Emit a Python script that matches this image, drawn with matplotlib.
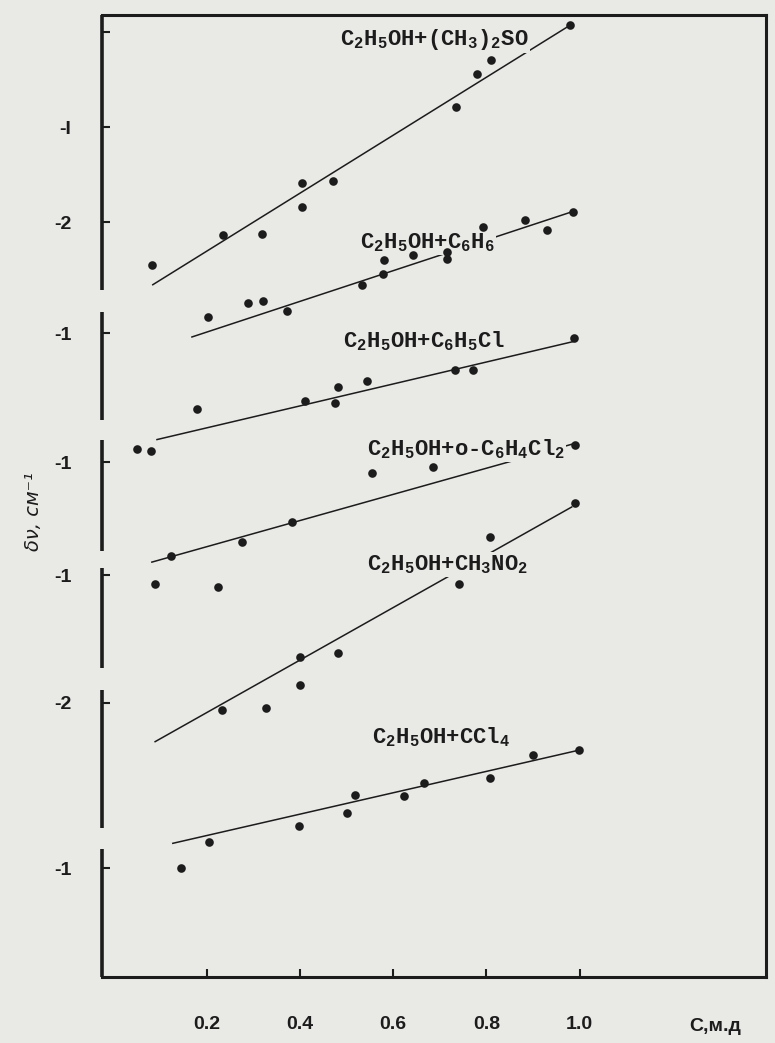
import matplotlib
matplotlib.use('Agg')
import matplotlib.pyplot as plt

# 扫描件风格：打字机字体 + 灰白纸张
plt.rcParams['font.family'] = ['Liberation Sans', 'DejaVu Sans']
plt.rcParams['mathtext.fontset'] = 'custom'
plt.rcParams['mathtext.rm'] = 'Liberation Mono:bold'
plt.rcParams['mathtext.it'] = 'Liberation Mono:bold'
plt.rcParams['mathtext.bf'] = 'Liberation Mono:bold'

PAPER = '#e9e9e6'
INK = '#1c1c1c'

# ---- 数据：C (мол. доли) 与 δν (см-1，按图中纵向位置，已含各曲线的偏移) ----
dmso_c = [0.082, 0.234, 0.318, 0.404, 0.404, 0.470, 0.734, 0.779, 0.809, 0.979]
dmso_dv = [-2.45, -2.14, -2.13, -1.84, -1.59, -1.57, -0.79, -0.44, -0.29, 0.07]
dmso_fit_c = [0.084, 0.979]
dmso_fit_dv = [-2.66, 0.07]

benz_c = [0.202, 0.288, 0.320, 0.372, 0.533, 0.578, 0.580, 0.642, 0.715, 0.715,
          0.792, 0.882, 0.930, 0.985]
benz_dv = [-3.00, -2.85, -2.83, -2.94, -2.66, -2.55, -2.40, -2.35, -2.32, -2.39,
           -2.05, -1.98, -2.08, -1.89]
benz_fit_c = [0.168, 0.985]
benz_fit_dv = [-3.21, -1.89]

clbz_c = [0.050, 0.080, 0.179, 0.410, 0.475, 0.481, 0.543, 0.732, 0.771, 0.988]
clbz_dv = [-4.39, -4.41, -3.97, -3.88, -3.91, -3.74, -3.67, -3.56, -3.56, -3.22]
clbz_fit_c = [0.093, 0.985]
clbz_fit_dv = [-4.29, -3.26]

dcb_c = [0.088, 0.223, 0.123, 0.275, 0.382, 0.554, 0.685, 0.990]
dcb_dv = [-5.81, -5.84, -5.52, -5.37, -5.16, -4.64, -4.58, -4.35]
dcb_fit_c = [0.082, 0.990]
dcb_fit_dv = [-5.58, -4.33]

nm_c = [0.232, 0.326, 0.400, 0.400, 0.481, 0.741, 0.807, 0.990]
nm_dv = [-7.14, -7.12, -6.87, -6.58, -6.54, -5.81, -5.32, -4.96]
nm_fit_c = [0.089, 0.983]
nm_fit_dv = [-7.47, -5.00]

ccl4_c = [0.144, 0.204, 0.397, 0.500, 0.519, 0.623, 0.666, 0.807, 0.899, 0.998]
ccl4_dv = [-8.80, -8.53, -8.36, -8.22, -8.03, -8.04, -7.91, -7.85, -7.61, -7.56]
ccl4_fit_c = [0.127, 0.998]
ccl4_fit_dv = [-8.54, -7.56]

series_names = [
    r'C$_2$H$_5$OH+(CH$_3$)$_2$SO',
    r'C$_2$H$_5$OH+C$_6$H$_6$',
    r'C$_2$H$_5$OH+C$_6$H$_5$Cl',
    r'C$_2$H$_5$OH+o-C$_6$H$_4$Cl$_2$',
    r'C$_2$H$_5$OH+CH$_3$NO$_2$',
    r'C$_2$H$_5$OH+CCl$_4$',
]

x_ticks = [0.2, 0.4, 0.6, 0.8, 1.0]
x_tick_labels = ['0.2', '0.4', '0.6', '0.8', '1.0']
y_ticks = [0.0, -1.0, -2.0, -3.17, -4.53, -5.72, -7.06, -8.80]
y_tick_labels = ['', '-I', '-2', '-1', '-1', '-1', '-2', '-1']

# ---- 版面 ----
XLIM = (-0.025, 1.40)
YLIM = (-9.947, 0.179)
# 左轴被分成几段
SPINE_PARTS = [(0.179, -2.716), (-2.947, -4.084), (-4.295, -5.463),
               (-5.642, -6.695), (-6.926, -8.379), (-8.600, -9.947)]
# 每条曲线名称的位置（左端、基线）
LABEL_POS = [(0.485, -0.137), (0.528, -2.274), (0.492, -3.316),
             (0.543, -4.453), (0.543, -5.663), (0.554, -7.484)]


def draw_series(ax, c, dv, fit_c, fit_dv):
    """画散点和拟合直线"""
    ax.plot(fit_c, fit_dv, color=INK, linewidth=1.1, zorder=2)
    ax.plot(c, dv, 'o', color=INK, markersize=6.2, markeredgewidth=0, zorder=5)


def main():
    fig = plt.figure(figsize=(7.75, 10.43), dpi=100, facecolor=PAPER)
    ax = fig.add_axes([0.1316, 0.0633, 0.8568, 0.9223])
    ax.set_facecolor(PAPER)

    draw_series(ax, dmso_c, dmso_dv, dmso_fit_c, dmso_fit_dv)
    draw_series(ax, benz_c, benz_dv, benz_fit_c, benz_fit_dv)
    draw_series(ax, clbz_c, clbz_dv, clbz_fit_c, clbz_fit_dv)
    draw_series(ax, dcb_c, dcb_dv, dcb_fit_c, dcb_fit_dv)
    draw_series(ax, nm_c, nm_dv, nm_fit_c, nm_fit_dv)
    draw_series(ax, ccl4_c, ccl4_dv, ccl4_fit_c, ccl4_fit_dv)

    # 曲线名称（底色与纸张一致，把直线“断开”）
    for name, (lx, ly) in zip(series_names, LABEL_POS):
        ax.text(lx, ly, name, fontsize=16, color=INK, ha='left', va='baseline',
                family='Liberation Mono', fontweight='bold', zorder=4,
                bbox=dict(facecolor=PAPER, edgecolor='none', pad=1.0))

    ax.set_xlim(*XLIM)
    ax.set_ylim(*YLIM)

    # 边框
    for side in ['top', 'right', 'bottom']:
        ax.spines[side].set_linewidth(2.2)
        ax.spines[side].set_color(INK)
    ax.spines['left'].set_visible(False)
    for lo, hi in SPINE_PARTS:
        ax.plot([XLIM[0], XLIM[0]], [lo, hi], color=INK, linewidth=2.6,
                solid_capstyle='butt', clip_on=False, zorder=6)

    ax.set_xticks(x_ticks)
    ax.set_xticklabels(x_tick_labels, fontsize=14, fontweight='bold', color=INK)
    ax.set_yticks(y_ticks)
    ax.set_yticklabels(y_tick_labels, fontsize=14, fontweight='bold', color=INK)
    ax.tick_params(axis='x', direction='in', length=6, width=1.5, pad=28, colors=INK)
    ax.tick_params(axis='y', direction='in', length=6, width=1.5, pad=22, colors=INK)

    ax.text(1.29, -0.051, 'С,м.д', transform=ax.get_xaxis_transform(),
            fontsize=14, fontweight='bold', color=INK, ha='center', va='center')
    fig.text(0.043, 0.51, 'δν, см⁻¹', rotation=90, fontsize=14, style='italic',
             color=INK, ha='center', va='center', family=['DejaVu Sans'])

    fig.savefig('out.png', dpi=100, facecolor=PAPER)


if __name__ == '__main__':
    main()
